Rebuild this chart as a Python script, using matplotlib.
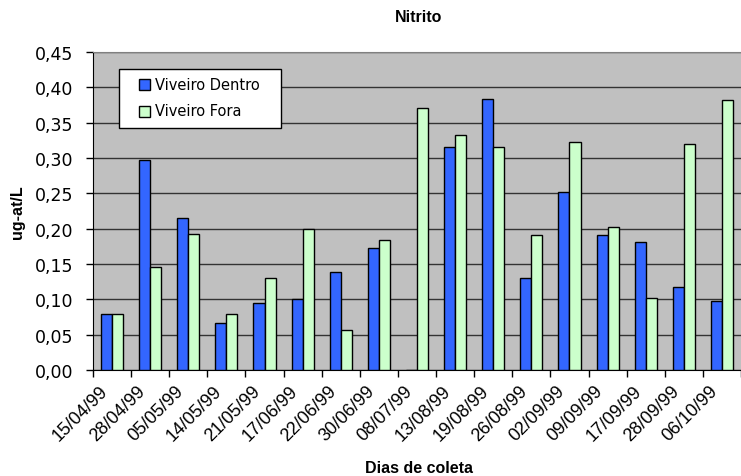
import numpy as np
import matplotlib
matplotlib.use('Agg')
import matplotlib.pyplot as plt
from matplotlib.patches import Rectangle
from matplotlib.ticker import FuncFormatter, MultipleLocator
import matplotlib.transforms as mtransforms

# nitrite sampling, inside vs outside the pond
datas = ['15/04/99', '28/04/99', '05/05/99', '14/05/99', '21/05/99', '17/06/99',
         '22/06/99', '30/06/99', '08/07/99', '13/08/99', '19/08/99', '26/08/99',
         '02/09/99', '09/09/99', '17/09/99', '28/09/99', '06/10/99']
dentro = [0.079, 0.297, 0.215, 0.067, 0.095, 0.100, 0.138, 0.172, 0.0,
          0.316, 0.383, 0.130, 0.252, 0.191, 0.181, 0.118, 0.098]
fora = [0.079, 0.146, 0.193, 0.079, 0.130, 0.199, 0.057, 0.184, 0.371,
        0.333, 0.316, 0.191, 0.322, 0.203, 0.102, 0.320, 0.382]
series_names = ['Viveiro Dentro', 'Viveiro Fora']
cor_dentro = '#3366FF'
cor_fora = '#CCFFCC'

fig = plt.figure(figsize=(7.41, 4.77), dpi=100)
ax = fig.add_axes([93 / 741, 106 / 477, 648 / 741, 318 / 477])
ax.set_facecolor('#C0C0C0')

x = np.arange(len(datas))
w = 0.29
ax.bar(x - w / 2, dentro, w, color=cor_dentro, edgecolor='black', linewidth=1, zorder=3)
ax.bar(x + w / 2, fora, w, color=cor_fora, edgecolor='black', linewidth=1, zorder=3)

ax.set_xlim(-0.5, len(datas) - 0.5)
ax.set_ylim(0, 0.45)
ax.yaxis.set_major_locator(MultipleLocator(0.05))
ax.yaxis.set_major_formatter(FuncFormatter(lambda v, p: ('%.2f' % v).replace('.', ',')))
ax.grid(axis='y', color='#333333', linewidth=1, zorder=1)
ax.set_axisbelow(True)

# category labels at the centres, tick marks between the groups
ax.set_xticks(x)
ax.set_xticks(np.arange(len(datas) + 1) - 0.5, minor=True)
ax.tick_params(axis='x', which='major', length=0, pad=13)
ax.tick_params(axis='x', which='minor', length=5, width=1, color='black')
ax.tick_params(axis='y', length=5, width=1, color='black', pad=9)
ax.set_xticklabels(datas, rotation=45, ha='right', va='center', rotation_mode='anchor',
                   fontsize=13, family='Liberation Sans')
shift = mtransforms.ScaledTranslation(-7 / 100, 0, fig.dpi_scale_trans)
for lbl in ax.get_xticklabels():
    lbl.set_transform(lbl.get_transform() + shift)
for lbl in ax.get_yticklabels():
    lbl.set_fontsize(12.5)
    lbl.set_family('DejaVu Sans')

ax.spines['top'].set_color('#808080')
ax.spines['right'].set_visible(False)
ax.spines['left'].set_color('black')
ax.spines['bottom'].set_color('black')

fig.text(419 / 741, 1 - 18 / 477, 'Nitrito', ha='center', va='center',
         fontsize=11.5, fontweight='bold', family='Liberation Sans')
fig.text(419 / 741, 1 - 469 / 477, 'Dias de coleta', ha='center', va='center',
         fontsize=11.5, fontweight='bold', family='Liberation Sans')
fig.text(18 / 741, 1 - 212 / 477, 'ug-at/L', ha='center', va='center', rotation=90,
         fontsize=11.5, fontweight='bold', family='Liberation Sans')

# legend box
ax.add_patch(Rectangle((0.040, 0.761), 0.25, 0.1855, transform=ax.transAxes,
                       facecolor='white', edgecolor='black', linewidth=1, zorder=5))
for i, (nome, cor) in enumerate(zip(series_names, [cor_dentro, cor_fora])):
    yc = 1 - (85 + 27 * i - 53) / 318
    ax.add_patch(Rectangle(((139 - 93) / 648, yc - 5.5 / 318), 11 / 648, 11 / 318,
                           transform=ax.transAxes, facecolor=cor, edgecolor='black',
                           linewidth=1, zorder=6))
    ax.text((155 - 93) / 648, yc, nome, transform=ax.transAxes, va='center', ha='left',
            fontsize=10.5, family='DejaVu Sans', zorder=6)

fig.savefig('out.png', dpi=100)
